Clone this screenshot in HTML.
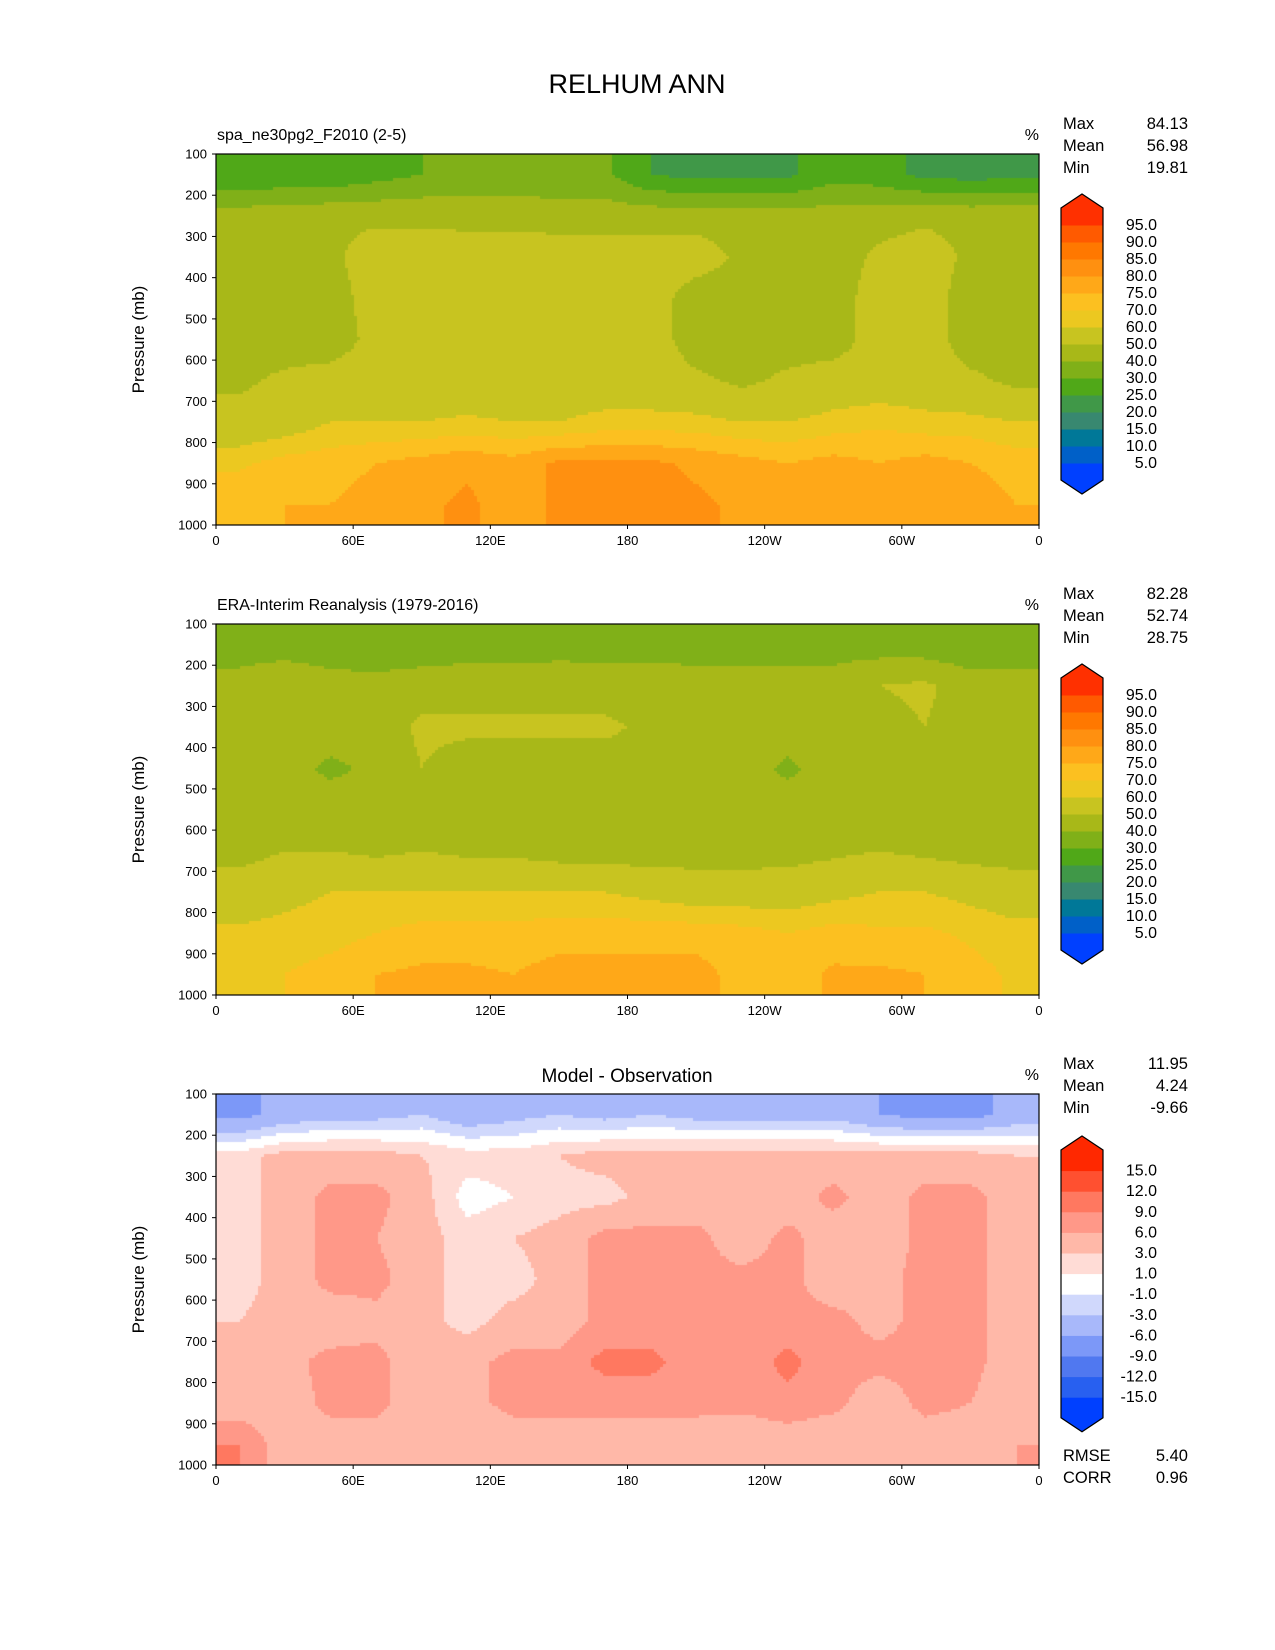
<!DOCTYPE html>
<html><head><meta charset="utf-8">
<style>
html,body{margin:0;padding:0;background:#fff;}
#root{position:relative;width:1275px;height:1650px;overflow:hidden;font-family:"Liberation Sans","DejaVu Sans",sans-serif;}
canvas{position:absolute;}
svg{position:absolute;left:0;top:0;}
</style></head>
<body>
<div id="root">
<canvas id="c0"></canvas>
<canvas id="c1"></canvas>
<canvas id="c2"></canvas>
<svg id="ov" width="1275" height="1650"></svg>
</div>
<script>
const lons = [10,30,50,70,90,110,130,150,170,190,210,230,250,270,290,310,330,350];
const pressures = [150,250,350,450,550,650,750,850,950];
const yTicks = [100,200,300,400,500,600,700,800,900,1000];
const xTickLons = [0,60,120,180,240,300,360];
const xTickLabels = ["0","60E","120E","180","120W","60W","0"];
const model = [
[32,32,32,36,40,42,42,42,42,30,27,27,28,36,34,27,26,27],
[55,56,58,58,58,57,57,56,56,56,56,55,55,55,56,58,57,57],
[55,55,58,65,65,65,65,65,65,65,65,58,55,55,62,65,58,55],
[55,55,55,65,65,65,65,65,65,65,55,55,55,55,65,65,55,55],
[56,55,55,63,65,65,65,65,65,65,55,55,55,55,65,65,55,55],
[58,62,64,65,65,65,65,65,65,65,62,58,62,65,65,65,62,58],
[64,66,70,70,70,71,70,70,72,72,72,70,70,72,74,72,72,70],
[74,77,78,80,82,84,82,86,86,86,84,82,80,82,80,82,80,78],
[79,80,80,82,84,86,82,86,87,87,86,84,82,84,82,84,83,80]];
const obs = [
[45,45,44,44,44,45,45,46,46,46,45,44,44,45,45,44,42,42],
[54,58,54,53,55,56,56,56,55,55,55,55,55,55,60,62,55,55],
[55,56,55,54,62,62,62,62,62,58,55,55,55,55,56,60,55,55],
[55,54,48,52,60,55,55,55,55,55,55,55,48,55,55,55,55,50],
[55,55,55,55,58,55,55,55,55,55,55,55,55,55,55,55,55,55],
[56,60,60,58,60,58,58,56,55,55,55,55,56,58,60,58,56,55],
[66,68,70,70,70,70,70,70,70,68,66,66,66,68,70,70,68,66],
[71,72,73,75,77,77,77,78,78,78,78,77,75,77,76,76,74,72],
[74,75,77,80,81,81,80,82,82,82,82,78,77,81,81,80,77,74]];
const diff = [
[-7,-5,-4,-4,-3,-5,-4,-3,-4,-3,-4,-4,-4,-4,-6,-7,-7,-5],
[2,4,4,4,3,2,2,3,4,4,4,4,4,4,4,4,4,3],
[2,4,7,7,4,0,1,2,2,4,4,4,4,7,4,7,7,4],
[2,4,7,6,4,2,3,4,7,7,7,4,7,4,4,7,7,4],
[2,4,7,7,4,2,2,4,7,7,7,7,7,4,5,7,7,4],
[3,4,4,5,4,2,4,4,7,7,7,7,7,7,5,7,7,4],
[4,5,7,7,4,5,7,7,10,10,7,7,10,7,7,7,7,4],
[4,4,7,7,4,5,7,7,7,7,7,7,8,7,4,7,6,4],
[9,4,4,4,3,3,4,4,4,4,4,3,4,3,3,4,4,6]];
const rhLevels = [10,15,20,25,30,40,50,60,70,75,80,85,90,95,100];
const rhLabels = ["95.0","90.0","85.0","80.0","75.0","70.0","60.0","50.0","40.0","30.0","25.0","20.0","15.0","10.0","5.0"];
const dLevels = [-15,-12,-9,-6,-3,-1,1,3,6,9,12,15];
const dLabels = ["15.0","12.0","9.0","6.0","3.0","1.0","-1.0","-3.0","-6.0","-9.0","-12.0","-15.0"];
const rhColors = ["#0040ff","#0060c8","#007898","#388870","#409848","#50a818","#80b018","#a8b818","#c8c420","#ecc820","#fcc020","#ffa818","#ff9010","#ff7800","#ff5a00","#ff3000"];
const dColors = ["#0040ff","#2860f0","#5078f0","#7c98f8","#a8b8fa","#d0d8fc","#ffffff","#ffdcd6","#ffb8a8","#ff9888","#ff7860","#ff5030","#ff2800"];
const titles = ["spa_ne30pg2_F2010 (2-5)","ERA-Interim Reanalysis (1979-2016)","Model - Observation"];
const statNames = ["Max","Mean","Min"];
const stats = [["84.13","56.98","19.81"],["82.28","52.74","28.75"],["11.95","4.24","-9.66"]];

const PX=216, PW=823, PH=371, TOPS=[154,624,1094];
function xScale(lon){return PX+lon/360*PW;}
function yScale(p,top){return top+(p-100)/900*PH;}
function classify(v,levels){let i=0;while(i<levels.length&&v>=levels[i])i++;return i;}
function sample(grid,lon,p){
  let cx=(lon-lons[0])/(lons[1]-lons[0]), cy=(p-pressures[0])/(pressures[1]-pressures[0]);
  cx=Math.max(0,Math.min(lons.length-1,cx)); cy=Math.max(0,Math.min(pressures.length-1,cy));
  const x0=Math.floor(cx),y0=Math.floor(cy),x1=Math.min(x0+1,lons.length-1),y1=Math.min(y0+1,pressures.length-1);
  const fx=cx-x0,fy=cy-y0;
  return (grid[y0][x0]*(1-fx)+grid[y0][x1]*fx)*(1-fy)+(grid[y1][x0]*(1-fx)+grid[y1][x1]*fx)*fy;
}
const grids=[model,obs,diff];
for(let k=0;k<3;k++){
  const cv=document.getElementById('c'+k);
  cv.width=PW;cv.height=PH;cv.style.left=PX+'px';cv.style.top=TOPS[k]+'px';
  const ctx=cv.getContext('2d');
  const lv=k<2?rhLevels:dLevels, cl=k<2?rhColors:dColors;
  const step=3;
  for(let y=0;y<PH;y+=step){for(let x=0;x<PW;x+=step){
    const lon=(x+step/2)/PW*360, p=100+(y+step/2)/PH*900;
    ctx.fillStyle=cl[classify(sample(grids[k],lon,p),lv)];
    ctx.fillRect(x,y,step,step);
  }}
}
const NS="http://www.w3.org/2000/svg", ov=document.getElementById('ov');
function mk(tag,attrs,txt){const e=document.createElementNS(NS,tag);for(const a in attrs)e.setAttribute(a,attrs[a]);if(txt!==undefined)e.textContent=txt;ov.appendChild(e);return e;}
let t=mk('text',{x:637,y:93,'font-size':27,'text-anchor':'middle',fill:'#000'},'RELHUM ANN');


for(let k=0;k<3;k++){
  const top=TOPS[k];
  let r=mk('rect',{x:PX,y:top,width:PW,height:PH,fill:'none',stroke:'#000','stroke-width':1.2});
  
  
  yTicks.forEach(p=>{const y=yScale(p,top);
    mk('line',{x1:PX-4,x2:PX,y1:y,y2:y,stroke:'#000'});
    let e=mk('text',{x:PX-9,y:y+4.5,'font-size':13,'text-anchor':'end'},String(p));
    
    });
  xTickLons.forEach((l,i)=>{const x=xScale(l);
    mk('line',{x1:x,x2:x,y1:top+PH,y2:top+PH+4,stroke:'#000'});
    let e=mk('text',{x:x,y:top+PH+20,'font-size':13,'text-anchor':'middle'},xTickLabels[i]);
    
    });
  let yt=mk('text',{x:0,y:0,'font-size':17,'text-anchor':'middle',transform:`translate(144,${top+PH/2}) rotate(-90)`},'Pressure (mb)');
  
  
  let st=k<2?mk('text',{x:PX+1,y:top-14,'font-size':16},titles[k]):mk('text',{x:627,y:top-12,'font-size':19,'text-anchor':'middle'},titles[k]);
  
  
  let u=mk('text',{x:1039,y:top-14,'font-size':16,'text-anchor':'end'},'%');
  
  
  statNames.forEach((n,i)=>{const y=top-25+i*22;
    let a=mk('text',{x:1063,y:y,'font-size':16.5},n);
    
    
    let b=mk('text',{x:1188,y:y,'font-size':16.5,'text-anchor':'end'},stats[k][i]);
    
    });
  const cl=k<2?rhColors:dColors, labs=k<2?rhLabels:dLabels;
  const seg=k<2?17:20.6;
  const cbTop=k<2?top+54:top+56;
  const n=cl.length, cx0=1061, cx1=1103, cbBot=cbTop+n*seg;
  for(let i=0;i<n;i++){
    let s=mk('rect',{x:cx0,y:cbTop+(n-1-i)*seg,width:cx1-cx0,height:seg+0.5,fill:cl[i]});
    
    
  }
  mk('polygon',{points:`${cx0},${cbTop} ${(cx0+cx1)/2},${cbTop-14} ${cx1},${cbTop}`,fill:cl[n-1]});
  mk('polygon',{points:`${cx0},${cbBot} ${(cx0+cx1)/2},${cbBot+14} ${cx1},${cbBot}`,fill:cl[0]});
  let o=mk('polygon',{points:`${cx0},${cbTop} ${(cx0+cx1)/2},${cbTop-14} ${cx1},${cbTop} ${cx1},${cbBot} ${(cx0+cx1)/2},${cbBot+14} ${cx0},${cbBot}`,fill:'none',stroke:'#000','stroke-width':1.2});
  
  
  labs.forEach((l,i)=>{const y=cbTop+(i+1)*seg;
    let e=mk('text',{x:1157,y:y+5,'font-size':16,'text-anchor':'end'},l);
    
    });
}
[["RMSE","5.40"],["CORR","0.96"]].forEach((s,i)=>{const y=1461+i*22;
  let a=mk('text',{x:1063,y:y,'font-size':16.5},s[0]);
  
  
  let b=mk('text',{x:1188,y:y,'font-size':16.5,'text-anchor':'end'},s[1]);
  
  });
</script>
</body></html>
